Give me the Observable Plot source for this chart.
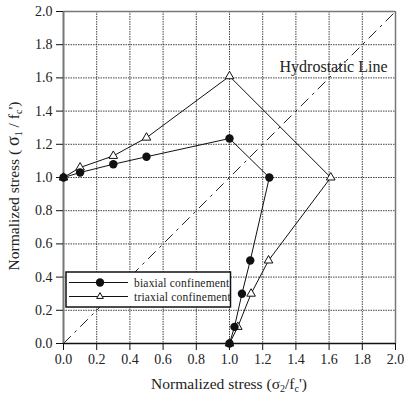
<!DOCTYPE html>
<html>
<head>
<meta charset="utf-8">
<script src="https://cdn.jsdelivr.net/npm/d3@7"></script>
<script src="https://cdn.jsdelivr.net/npm/@observablehq/plot@0.6"></script>
<style>
body{margin:0;background:#fff;}
</style>
</head>
<body>
<div id="chart"></div>
<script>
const ticks = [0, 0.2, 0.4, 0.6, 0.8, 1.0, 1.2, 1.4, 1.6, 1.8, 2.0];
const biaxialX = [0, 0.1, 0.3, 0.5, 1.0, 1.24, 1.125, 1.075, 1.03, 1.0];
const biaxialY = [1.0, 1.03, 1.08, 1.125, 1.235, 1.0, 0.5, 0.3, 0.1, 0.0];
const triaxialX = [0, 0.1, 0.3, 0.5, 1.0, 1.61, 1.235, 1.13, 1.05, 1.0];
const triaxialY = [1.0, 1.06, 1.13, 1.24, 1.61, 1.0, 0.5, 0.3, 0.1, 0.0];
const hydroX = [0, 2];
const hydroY = [0, 2];
const seriesNames = ["biaxial confinement", "triaxial confinement"];
const hydroLabel = "Hydrostatic Line";

const biaxial = biaxialX.map((x, i) => ({x, y: biaxialY[i]}));
const triaxial = triaxialX.map((x, i) => ({x, y: triaxialY[i]}));
const hydro = hydroX.map((x, i) => ({x, y: hydroY[i]}));
const fmt = d3.format(".1f");
const font = "Liberation Serif, Times New Roman, serif";

const chart = Plot.plot({
  width: 404,
  height: 398,
  marginLeft: 63,
  marginRight: 9,
  marginTop: 11,
  marginBottom: 55,
  x: {domain: [0, 2], label: null},
  y: {domain: [0, 2], label: null},
  style: {fontFamily: font, fontSize: "14px", color: "#222", background: "#fff"},
  marks: [
    Plot.gridX(ticks, {stroke: "#222", strokeOpacity: 0.85, strokeDasharray: "1.5,1"}),
    Plot.gridY(ticks, {stroke: "#222", strokeOpacity: 0.85, strokeDasharray: "1.5,1"}),
    Plot.line(hydro, {x: "x", y: "y", stroke: "#222", strokeWidth: 1, strokeDasharray: "10,6,2,6"}),
    Plot.ruleX([0], {stroke: "#777", strokeWidth: 2}),
    Plot.ruleX([2], {stroke: "#777", strokeWidth: 1.5}),
    Plot.ruleY([2], {stroke: "#777", strokeWidth: 1.5}),
    Plot.ruleY([0], {stroke: "#111", strokeWidth: 1.5}),
    Plot.line(triaxial, {x: "x", y: "y", stroke: "#111", strokeWidth: 1}),
    Plot.line(biaxial, {x: "x", y: "y", stroke: "#111", strokeWidth: 1}),
    Plot.dot(triaxial, {x: "x", y: "y", symbol: "triangle", r: 3.2, stroke: "#111", fill: "#fff", strokeWidth: 1}),
    Plot.dot(biaxial, {x: "x", y: "y", r: 4.2, fill: "#111", stroke: null}),
    Plot.text([hydroLabel], {frameAnchor: "top-right", dx: -8, dy: 49, fontSize: 16, fill: "#222", textAnchor: "end"}),
    Plot.axisX({ticks, tickFormat: fmt, tickSize: 7, tickPadding: 4, stroke: "#111", label: null}),
    Plot.axisY({ticks, tickFormat: fmt, tickSize: 7, tickPadding: 4, stroke: "#111", label: null})
  ]
});
document.getElementById("chart").appendChild(chart);

const svg = d3.select(chart);

// x-axis title
const xt = svg.append("text")
  .attr("x", 229).attr("y", 389)
  .attr("text-anchor", "middle")
  .attr("font-family", font).attr("font-size", 15.5).attr("fill", "#222");
xt.append("tspan").text("Normalized stress (σ");
xt.append("tspan").attr("font-size", 10).attr("dy", 3).text("2");
xt.append("tspan").attr("dy", -3).text("/f");
xt.append("tspan").attr("font-size", 10).attr("dy", 3).text("c");
xt.append("tspan").attr("dy", -3).text("')");

// y-axis title
const yt = svg.append("text")
  .attr("transform", "translate(19,186) rotate(-90)")
  .attr("text-anchor", "middle")
  .attr("font-family", font).attr("font-size", 15.5).attr("fill", "#222");
yt.append("tspan").text("Normalized stress ( ");
yt.append("tspan").attr("font-size", 18).text("σ");
yt.append("tspan").attr("font-size", 10).attr("dy", 3).text("1");
yt.append("tspan").attr("dy", -3).text(" / f");
yt.append("tspan").attr("font-size", 10).attr("dy", 3).text("c");
yt.append("tspan").attr("dy", -3).text("')");

// legend
const lg = svg.append("g");
lg.append("rect").attr("x", 66).attr("y", 272).attr("width", 164.5).attr("height", 35)
  .attr("fill", "#fff").attr("stroke", "#111").attr("stroke-width", 1.5);
const rows = [282.5, 296.5];
rows.forEach((yy, i) => {
  lg.append("line").attr("x1", 69).attr("x2", 128).attr("y1", yy).attr("y2", yy).attr("stroke", "#111");
  if (i === 0) {
    lg.append("circle").attr("cx", 100).attr("cy", yy).attr("r", 4.2).attr("fill", "#111");
  } else {
    lg.append("path").attr("d", d3.symbol(d3.symbolTriangle2, 32)()).attr("transform", `translate(100,${yy})`)
      .attr("fill", "#fff").attr("stroke", "#111");
  }
  lg.append("text").attr("x", 134).attr("y", yy + 4).attr("text-anchor", "start")
    .attr("font-family", font).attr("font-size", 11.5).attr("letter-spacing", 0.2)
    .attr("fill", "#222").text(seriesNames[i]);
});
</script>
</body>
</html>
